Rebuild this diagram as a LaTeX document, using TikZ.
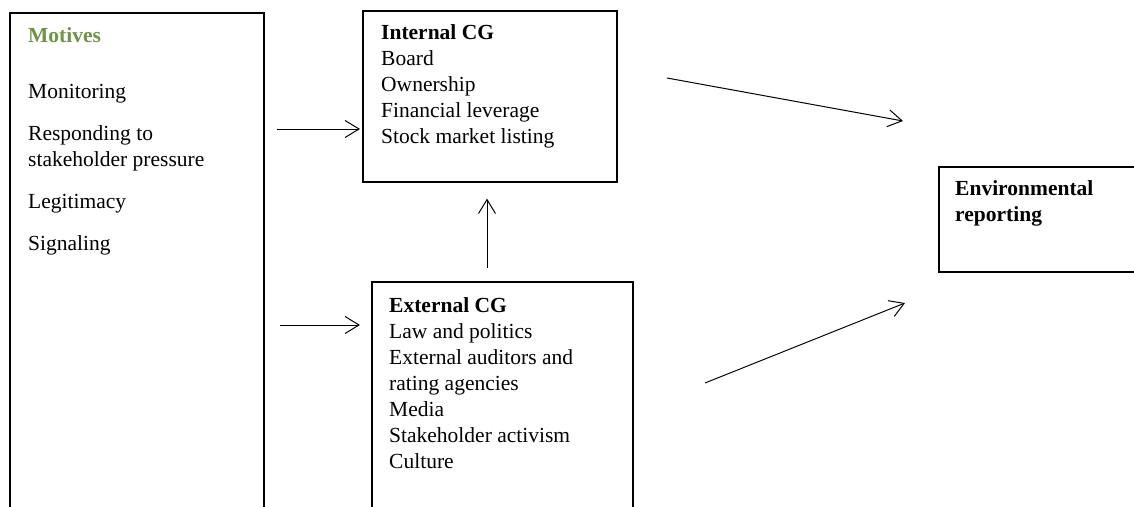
\documentclass[tikz,border=0pt]{standalone}
\usepackage{fontspec}
\setmainfont{Liberation Serif}
\usetikzlibrary{arrows.meta}
\definecolor{motivegreen}{HTML}{6F9447}
\begin{document}
\begin{tikzpicture}[x=1pt,y=-1pt,
  box/.style={draw, line width=1.6pt, inner sep=0pt, anchor=north west},
  txt/.style={anchor=base west, inner sep=0pt, font=\fontsize{21.5}{26}\selectfont},
  btxt/.style={txt, font=\fontsize{21.5}{26}\selectfont\bfseries},
  arr/.style={-{Straight Barb[length=14pt,width=17pt]}, line width=1pt}]
\clip (0,0) rectangle (1134,506);
\fill[white] (0,0) rectangle (1134,506);
% boxes
\node[box, minimum width=254pt, minimum height=518pt] (motives) at (9,12) {};
\node[box, minimum width=254pt, minimum height=171pt] (internal) at (362,10) {};
\node[box, minimum width=261pt, minimum height=250pt] (external) at (371,281) {};
\node[box, minimum width=212pt, minimum height=105pt] (env) at (938,166) {};
% motives text
\node[btxt, text=motivegreen] (m0) at (28,42) {Motives};
\node[txt] (m1) at (28,98) {Monitoring};
\node[txt] (m2) at (28,140) {Responding to};
\node[txt] (m3) at (28,166) {stakeholder pressure};
\node[txt] (m4) at (28,208) {Legitimacy};
\node[txt] (m5) at (28,250) {Signaling};
% internal text
\node[btxt] (i0) at (381,39) {Internal CG};
\node[txt] (i1) at (381,65) {Board};
\node[txt] (i2) at (381,91) {Ownership};
\node[txt] (i3) at (381,117) {Financial leverage};
\node[txt] (i4) at (381,143) {Stock market listing};
% external text
\node[btxt] (e0) at (389,312) {External CG};
\node[txt] (e1) at (389,338) {Law and politics};
\node[txt] (e2) at (389,364) {External auditors and};
\node[txt] (e3) at (389,390) {rating agencies};
\node[txt] (e4) at (389,416) {Media};
\node[txt] (e5) at (389,442) {Stakeholder activism};
\node[txt] (e6) at (389,468) {Culture};
% env text
\node[btxt] (r0) at (955,195) {Environmental};
\node[btxt] (r1) at (955,221) {reporting};
% helper coordinates
\coordinate (ya) at (0,129);
\coordinate (yb) at (0,325);
\coordinate (xv) at (487,0);
\coordinate (p1) at (667,78);
\coordinate (q1) at (903,121);
\coordinate (p2) at (705,383);
\coordinate (q2) at (905,303);
% connectors
\draw[arr, shorten <=12pt, shorten >=2pt] (motives.east |- ya) -- (internal.west |- ya);
\draw[arr, shorten <=15pt, shorten >=11pt] (motives.east |- yb) -- (external.west |- yb);
\draw[arr, shorten <=13pt, shorten >=16pt] (external.north -| xv) -- (internal.south -| xv);
\draw[arr] (p1) -- (q1);
\draw[arr] (p2) -- (q2);
\end{tikzpicture}
\end{document}
